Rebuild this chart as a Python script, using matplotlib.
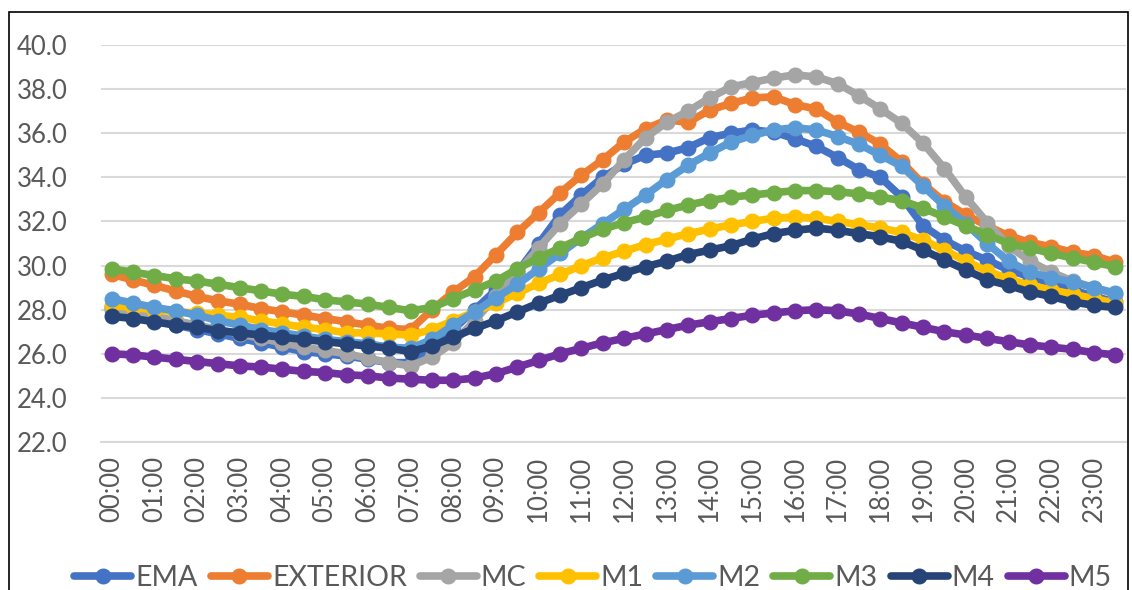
import matplotlib
matplotlib.use("Agg")
import matplotlib.pyplot as plt
from matplotlib.patches import Rectangle

plt.rcParams["font.family"] = ["Lato", "DejaVu Sans"]

# half-hourly readings, 00:00 .. 23:30
times = [f"{h:02d}:{m:02d}" for h in range(24) for m in (0, 30)]

ema = [28.1, 27.8, 27.5, 27.3, 27.1, 26.9, 26.7, 26.5, 26.3, 26.1, 26.0, 25.9,
       25.75, 25.6, 25.6, 26.2, 27.1, 28.0, 28.9, 29.7, 31.0, 32.3, 33.2, 34.0,
       34.6, 35.0, 35.1, 35.35, 35.8, 36.0, 36.15, 36.05, 35.75, 35.4, 34.9, 34.35,
       34.0, 33.1, 31.8, 31.15, 30.65, 30.25, 29.8, 29.5, 29.2, 28.9, 28.6, 28.35]
exterior = [29.6, 29.35, 29.1, 28.85, 28.6, 28.4, 28.25, 28.05, 27.9, 27.75, 27.6, 27.45,
            27.3, 27.15, 27.1, 28.0, 28.8, 29.5, 30.5, 31.5, 32.4, 33.3, 34.1, 34.8,
            35.6, 36.2, 36.6, 36.5, 37.05, 37.35, 37.6, 37.65, 37.3, 37.1, 36.5, 36.05,
            35.5, 34.7, 33.7, 32.9, 32.3, 31.8, 31.35, 31.05, 30.85, 30.6, 30.45, 30.15]
mc = [28.0, 27.9, 27.7, 27.5, 27.3, 27.1, 26.9, 26.7, 26.5, 26.3, 26.15, 26.0,
      25.8, 25.6, 25.45, 25.85, 26.5, 27.5, 28.6, 29.7, 30.8, 31.9, 32.8, 33.7,
      34.8, 35.8, 36.5, 37.0, 37.6, 38.1, 38.3, 38.5, 38.65, 38.55, 38.25, 37.7,
      37.1, 36.45, 35.55, 34.4, 33.1, 31.95, 30.9, 30.2, 29.7, 29.3, 29.0, 28.7]
m1 = [28.2, 28.1, 28.0, 27.9, 27.85, 27.75, 27.65, 27.5, 27.35, 27.2, 27.1, 26.95,
      26.95, 26.9, 26.85, 27.1, 27.5, 27.9, 28.3, 28.75, 29.2, 29.6, 30.0, 30.35,
      30.65, 30.95, 31.2, 31.45, 31.65, 31.85, 32.0, 32.15, 32.2, 32.15, 32.0, 31.85,
      31.7, 31.5, 31.15, 30.7, 30.2, 29.75, 29.4, 29.1, 28.9, 28.7, 28.5, 28.3]
m2 = [28.5, 28.3, 28.1, 27.95, 27.75, 27.5, 27.3, 27.1, 26.95, 26.8, 26.65, 26.55,
      26.45, 26.3, 26.25, 26.65, 27.3, 27.9, 28.55, 29.15, 29.85, 30.55, 31.25, 31.9,
      32.55, 33.2, 33.9, 34.55, 35.1, 35.6, 35.9, 36.15, 36.25, 36.15, 35.85, 35.5,
      35.0, 34.5, 33.6, 32.7, 31.9, 31.0, 30.2, 29.7, 29.45, 29.25, 29.0, 28.75]
m3 = [29.85, 29.7, 29.55, 29.4, 29.3, 29.15, 29.0, 28.85, 28.7, 28.6, 28.45, 28.35,
      28.25, 28.1, 27.95, 28.1, 28.5, 28.9, 29.3, 29.85, 30.35, 30.8, 31.25, 31.65,
      31.95, 32.2, 32.5, 32.75, 32.95, 33.1, 33.2, 33.3, 33.4, 33.4, 33.35, 33.25,
      33.1, 32.95, 32.6, 32.2, 31.8, 31.4, 31.0, 30.8, 30.55, 30.35, 30.15, 29.95]
m4 = [27.7, 27.6, 27.45, 27.3, 27.2, 27.05, 26.95, 26.85, 26.75, 26.65, 26.55, 26.45,
      26.35, 26.25, 26.1, 26.35, 26.75, 27.15, 27.5, 27.9, 28.3, 28.65, 29.0, 29.35,
      29.65, 29.95, 30.2, 30.5, 30.7, 30.9, 31.2, 31.45, 31.6, 31.7, 31.6, 31.45,
      31.3, 31.1, 30.7, 30.25, 29.8, 29.35, 29.1, 28.8, 28.6, 28.35, 28.2, 28.1]
m5 = [26.0, 25.95, 25.85, 25.75, 25.65, 25.55, 25.45, 25.4, 25.3, 25.2, 25.15, 25.05,
      25.0, 24.9, 24.85, 24.8, 24.8, 24.9, 25.1, 25.4, 25.7, 26.0, 26.25, 26.5,
      26.7, 26.9, 27.1, 27.3, 27.45, 27.6, 27.75, 27.85, 27.95, 28.0, 27.95, 27.8,
      27.6, 27.4, 27.2, 27.0, 26.85, 26.7, 26.55, 26.4, 26.3, 26.2, 26.05, 25.95]

series_names = ["EMA", "EXTERIOR", "MC", "M1", "M2", "M3", "M4", "M5"]
series_values = [ema, exterior, mc, m1, m2, m3, m4, m5]
colors = ["#4472C4", "#ED7D31", "#A5A5A5", "#FFC000",
          "#5B9BD5", "#70AD47", "#264478", "#7030A0"]

text_color = "#595959"

fig = plt.figure(figsize=(11.32, 5.90), dpi=100)
ax = fig.add_axes([0.0892, 0.2508, 0.9055, 0.6729])

x = list(range(len(times)))
for name, vals, c in zip(series_names, series_values, colors):
    ax.plot(x, vals, color=c, linewidth=5.5, marker="o", markersize=10.5,
            solid_capstyle="round", label=name)

ax.set_xlim(-0.5, len(times) - 0.5)
ax.set_ylim(22, 40)
ax.set_yticks([22, 24, 26, 28, 30, 32, 34, 36, 38, 40])
ax.set_yticklabels([f"{v:.1f}" for v in ax.get_yticks()])
ax.set_xticks(x[::2])
ax.set_xticklabels(times[::2], rotation=90)
ax.tick_params(axis="both", length=0, labelsize=18.5, labelcolor=text_color)
ax.tick_params(axis="y", pad=24)
ax.tick_params(axis="x", pad=10)

ax.grid(axis="y", color="#D9D9D9", linewidth=1.5)
ax.set_axisbelow(True)
for side in ["top", "right", "left"]:
    ax.spines[side].set_visible(False)
ax.spines["bottom"].set_color("#D9D9D9")
ax.spines["bottom"].set_linewidth(1.5)

leg = fig.legend(loc="lower center", bbox_to_anchor=(0.524, -0.045), ncol=8,
                 frameon=False, fontsize=20.5, handlelength=2.0,
                 handletextpad=0.15, columnspacing=0.45, labelcolor=text_color)

# thin outer frame like the pasted chart (bottom edge cut off)
fig.patches.append(Rectangle((9 / 1132, -0.05), 1119 / 1132, 578 / 590 + 0.05,
                             transform=fig.transFigure, fill=False,
                             edgecolor="black", linewidth=1.2))

fig.savefig("out.png", dpi=100)
